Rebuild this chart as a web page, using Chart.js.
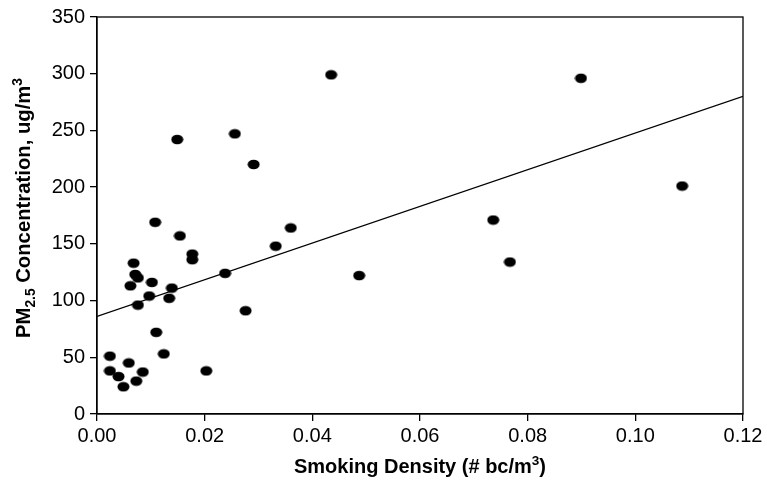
<!DOCTYPE html>
<html>
<head>
<meta charset="utf-8">
<script src="https://cdn.jsdelivr.net/npm/chart.js@4.4.1/dist/chart.umd.min.js"></script>
<style>
  html, body { margin: 0; padding: 0; background: #fff; }
  #wrap { width: 767px; height: 487px; }
</style>
</head>
<body>
<div id="wrap"><canvas id="pmChart" width="767" height="487"></canvas></div>
<script>
// smoking density (# bc/m3) and PM2.5 (ug/m3)
const density = [
  0.0024, 0.0024, 0.0040, 0.0049, 0.0059, 0.0073, 0.0085, 0.0062, 0.0068,
  0.0071, 0.0076, 0.0076, 0.0097, 0.0102, 0.0108, 0.0110, 0.0124, 0.0134,
  0.0139, 0.0149, 0.0154, 0.0177, 0.0177, 0.0203, 0.0238, 0.0256, 0.0276,
  0.0291, 0.0332, 0.0360, 0.0435, 0.0487, 0.0736, 0.0767, 0.0899, 0.1087
];
const pm25 = [
  51, 38, 33, 24, 45, 29, 37, 113, 133,
  123, 120, 96, 104, 116, 169, 72, 53, 102,
  111, 242, 157, 141, 136, 38, 124, 247, 91,
  220, 148, 164, 299, 122, 171, 134, 296, 201
];
// fitted line end points
const trendX = [0, 0.12];
const trendY = [86, 280];

const xTicks = [0, 0.02, 0.04, 0.06, 0.08, 0.10, 0.12];
const yTicks = [0, 50, 100, 150, 200, 250, 300, 350];

const FONT = "'Liberation Sans', Arial, sans-serif";

// filled ellipse marker like the original
const dot = document.createElement('canvas');
dot.width = 13; dot.height = 11;
(function () {
  const c = dot.getContext('2d');
  c.fillStyle = '#000';
  c.beginPath();
  c.ellipse(6.5, 5.5, 6, 4.8, 0, 0, Math.PI * 2);
  c.fill();
})();

// draws text pieces with sub/superscripts, centered at 0,0
function drawRich(ctx, parts, size) {
  let total = 0;
  parts.forEach(p => {
    ctx.font = 'bold ' + (p.s ? size * 0.68 : size) + 'px ' + FONT;
    p.w = ctx.measureText(p.t).width;
    total += p.w;
  });
  let x = -total / 2;
  ctx.textBaseline = 'alphabetic';
  ctx.textAlign = 'left';
  parts.forEach(p => {
    ctx.font = 'bold ' + (p.s ? size * 0.68 : size) + 'px ' + FONT;
    const dy = p.s === 'sub' ? size * 0.22 : p.s === 'sup' ? -size * 0.42 : 0;
    ctx.fillText(p.t, x, size * 0.35 + dy);
    x += p.w;
  });
}

const titlesPlugin = {
  id: 'titles',
  afterDraw(chart) {
    const ctx = chart.ctx;
    const a = chart.chartArea;
    ctx.save();
    ctx.strokeStyle = '#000';
    ctx.lineWidth = 1.3;
    ctx.strokeRect(a.left, a.top, a.right - a.left, a.bottom - a.top);
    ctx.fillStyle = '#000';

    ctx.save();
    ctx.translate((a.left + a.right) / 2, 466);
    drawRich(ctx, [{ t: 'Smoking Density (# bc/m' }, { t: '3', s: 'sup' }, { t: ')' }], 20);
    ctx.restore();

    ctx.save();
    ctx.translate(23, 208);
    ctx.rotate(-Math.PI / 2);
    drawRich(ctx, [{ t: 'PM' }, { t: '2.5', s: 'sub' }, { t: ' Concentration, ug/m' }, { t: '3', s: 'sup' }], 20.3);
    ctx.restore();
    ctx.restore();
  }
};

const points = density.map((d, i) => ({ x: d, y: pm25[i] }));
const trend = trendX.map((d, i) => ({ x: d, y: trendY[i] }));

new Chart(document.getElementById('pmChart'), {
  type: 'scatter',
  data: {
    datasets: [
      {
        label: 'PM2.5',
        data: points,
        pointStyle: dot,
        pointRadius: 5,
        borderWidth: 0
      },
      {
        type: 'line',
        label: 'trend',
        data: trend,
        borderColor: '#000',
        borderWidth: 1.3,
        pointRadius: 0,
        fill: false
      }
    ]
  },
  options: {
    responsive: false,
    animation: false,
    events: [],
    layout: { padding: { top: 15, right: 24, left: 0, bottom: 0 } },
    plugins: { legend: { display: false }, tooltip: { enabled: false } },
    scales: {
      x: {
        type: 'linear',
        min: 0, max: 0.12,
        afterBuildTicks: s => { s.ticks = xTicks.map(v => ({ value: v })); },
        afterFit: s => { s.height = 73; },
        grid: { drawOnChartArea: false, tickLength: 7, color: '#000', lineWidth: 1.3 },
        border: { color: '#000', width: 1.3 },
        ticks: {
          color: '#000', padding: 3,
          font: { family: FONT, size: 20 },
          callback: v => v.toFixed(2),
          maxRotation: 0
        }
      },
      y: {
        min: 0, max: 350,
        afterBuildTicks: s => { s.ticks = yTicks.map(v => ({ value: v })); },
        afterFit: s => { s.width = 97; },
        grid: { drawOnChartArea: false, tickLength: 7, color: '#000', lineWidth: 1.3 },
        border: { color: '#000', width: 1.3 },
        ticks: {
          color: '#000', padding: 5,
          font: { family: FONT, size: 20 },
          callback: v => String(v)
        }
      }
    }
  },
  plugins: [titlesPlugin]
});
</script>
</body>
</html>
